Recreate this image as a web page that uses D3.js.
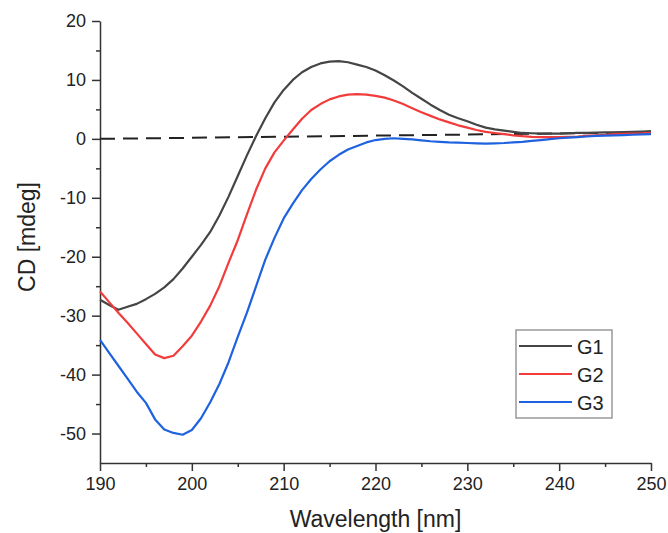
<!DOCTYPE html>
<html>
<head>
<meta charset="utf-8">
<script src="https://cdn.jsdelivr.net/npm/d3@7"></script>
<style>
  body { margin: 0; background: #fff; }
  text { font-family: "Liberation Sans", Arial, sans-serif; fill: #222; }
</style>
</head>
<body>
<div id="chart"></div>
<script>
// wavelength grid (nm)
const wavelength = [190, 191, 192, 193, 194, 195, 196, 197, 198, 199,
    200, 201, 202, 203, 204, 205, 206, 207, 208, 209,
    210, 211, 212, 213, 214, 215, 216, 217, 218, 219,
    220, 221, 222, 223, 224, 225, 226, 227, 228, 229,
    230, 231, 232, 233, 234, 235, 236, 237, 238, 239,
    240, 241, 242, 243, 244, 245, 246, 247, 248, 249, 250];

const g1 = [-27.3, -28.2, -29.0, -28.5, -28.0, -27.2, -26.3, -25.2, -23.8, -22.0,
    -20.0, -18.0, -15.8, -13.0, -9.8, -6.3, -2.8, 0.5, 3.5, 6.2,
    8.3, 10.0, 11.3, 12.2, 12.8, 13.1, 13.2, 13.0, 12.6, 12.2,
    11.6, 10.8, 9.9, 8.9, 7.8, 6.8, 5.8, 4.9, 4.1, 3.5,
    3.0, 2.4, 1.9, 1.6, 1.4, 1.2, 1.0, 0.95, 0.9, 0.9,
    0.9, 0.95, 1.0, 1.0, 1.05, 1.1, 1.1, 1.15, 1.2, 1.25, 1.3];

const g2 = [-25.9, -27.7, -29.5, -31.2, -33.0, -34.8, -36.6, -37.2, -36.8, -35.2,
    -33.4, -31.0, -28.3, -25.0, -21.0, -17.2, -12.8, -8.6, -5.0, -2.3,
    -0.3, 1.6, 3.4, 4.9, 5.9, 6.7, 7.2, 7.5, 7.6, 7.5,
    7.3, 7.0, 6.5, 5.9, 5.2, 4.5, 3.9, 3.3, 2.8, 2.3,
    1.9, 1.5, 1.2, 1.0, 0.8, 0.6, 0.45, 0.35, 0.3, 0.3,
    0.3, 0.35, 0.4, 0.5, 0.6, 0.7, 0.8, 0.85, 0.9, 0.95, 1.0];

const g3 = [-34.1, -36.3, -38.5, -40.7, -42.9, -44.8, -47.6, -49.3, -49.9, -50.2,
    -49.4, -47.4, -44.7, -41.6, -37.9, -33.6, -29.5, -25.0, -20.5, -16.8,
    -13.5, -11.0, -8.7, -6.8, -5.2, -3.8, -2.7, -1.8, -1.2, -0.6,
    -0.2, 0.0, 0.1, 0.0, -0.1, -0.25, -0.4, -0.5, -0.6, -0.65,
    -0.7, -0.75, -0.8, -0.75, -0.7, -0.6, -0.5, -0.35, -0.2, -0.05,
    0.1, 0.2, 0.3, 0.4, 0.5, 0.55, 0.6, 0.65, 0.7, 0.75, 0.8];

// dashed baseline
const baselineX = [190, 250];
const baselineY = [0, 1.1];

const seriesNames = ["G1", "G2", "G3"];
const seriesColors = ["#454545", "#f23c3c", "#1f62e0"];
const seriesValues = [g1, g2, g3];

const xMajor = [190, 200, 210, 220, 230, 240, 250];
const xMinor = [195, 205, 215, 225, 235, 245];
const yMajor = [-50, -40, -30, -20, -10, 0, 10, 20];
const yMinor = [-45, -35, -25, -15, -5, 5, 15];

const margin = { top: 21, right: 17, bottom: 70, left: 100 };
const fullW = 668, fullH = 533;
const width = fullW - margin.left - margin.right;
const height = fullH - margin.top - margin.bottom;

const svg = d3.select("#chart")
    .append("svg")
    .attr("width", fullW)
    .attr("height", fullH);

const g = svg.append("g")
    .attr("transform", `translate(${margin.left},${margin.top})`);

const x = d3.scaleLinear().domain([190, 250]).range([0, width]);
const y = d3.scaleLinear().domain([-55, 20]).range([height, 0]);

// axes
g.append("g")
    .attr("transform", `translate(0,${height})`)
    .call(d3.axisBottom(x).tickValues(xMajor).tickSize(8).tickSizeOuter(0).tickPadding(6).tickFormat(d => String(d)));
g.append("g")
    .attr("transform", `translate(0,${height})`)
    .call(d3.axisBottom(x).tickValues(xMinor).tickSize(4).tickSizeOuter(0).tickFormat(""))
    .select(".domain").remove();

g.append("g")
    .call(d3.axisLeft(y).tickValues(yMajor).tickSize(8).tickSizeOuter(0).tickPadding(6).tickFormat(d => String(d)));
g.append("g")
    .call(d3.axisLeft(y).tickValues(yMinor).tickSize(4).tickSizeOuter(0).tickFormat(""))
    .select(".domain").remove();

g.selectAll(".domain, .tick line")
    .attr("stroke", "#333")
    .attr("stroke-width", 1.5);
g.selectAll(".tick text")
    .style("font-size", "18px")
    .attr("fill", "#222");

// axis titles
svg.append("text")
    .attr("x", margin.left + width / 2)
    .attr("y", 527)
    .attr("text-anchor", "middle")
    .style("font-size", "23px")
    .text("Wavelength [nm]");

svg.append("text")
    .attr("transform", "translate(35,237) rotate(-90)")
    .attr("text-anchor", "middle")
    .style("font-size", "23px")
    .text("CD [mdeg]");

// baseline
const baseLine = d3.line()
    .x((d, i) => x(baselineX[i]))
    .y(d => y(d));
g.append("path")
    .datum(baselineY)
    .attr("fill", "none")
    .attr("stroke", "#222")
    .attr("stroke-width", 2)
    .attr("stroke-dasharray", "15,8")
    .attr("d", baseLine);

// curves
const line = d3.line()
    .x((d, i) => x(wavelength[i]))
    .y(d => y(d));

seriesValues.forEach((vals, k) => {
    g.append("path")
        .datum(vals)
        .attr("fill", "none")
        .attr("stroke", seriesColors[k])
        .attr("stroke-width", 2.2)
        .attr("stroke-linejoin", "round")
        .attr("d", line);
});

// legend
const legend = svg.append("g").attr("transform", "translate(516,330)");
legend.append("rect")
    .attr("width", 96)
    .attr("height", 88)
    .attr("fill", "#fff")
    .attr("stroke", "#999")
    .attr("stroke-width", 1.5);

seriesNames.forEach((name, k) => {
    const row = legend.append("g").attr("transform", `translate(0,${16 + k * 28})`);
    row.append("line")
        .attr("x1", 3).attr("x2", 56)
        .attr("stroke", seriesColors[k])
        .attr("stroke-width", 2.2);
    row.append("text")
        .attr("x", 61)
        .attr("y", 7.5)
        .style("font-size", "20px")
        .text(name);
});
</script>
</body>
</html>
